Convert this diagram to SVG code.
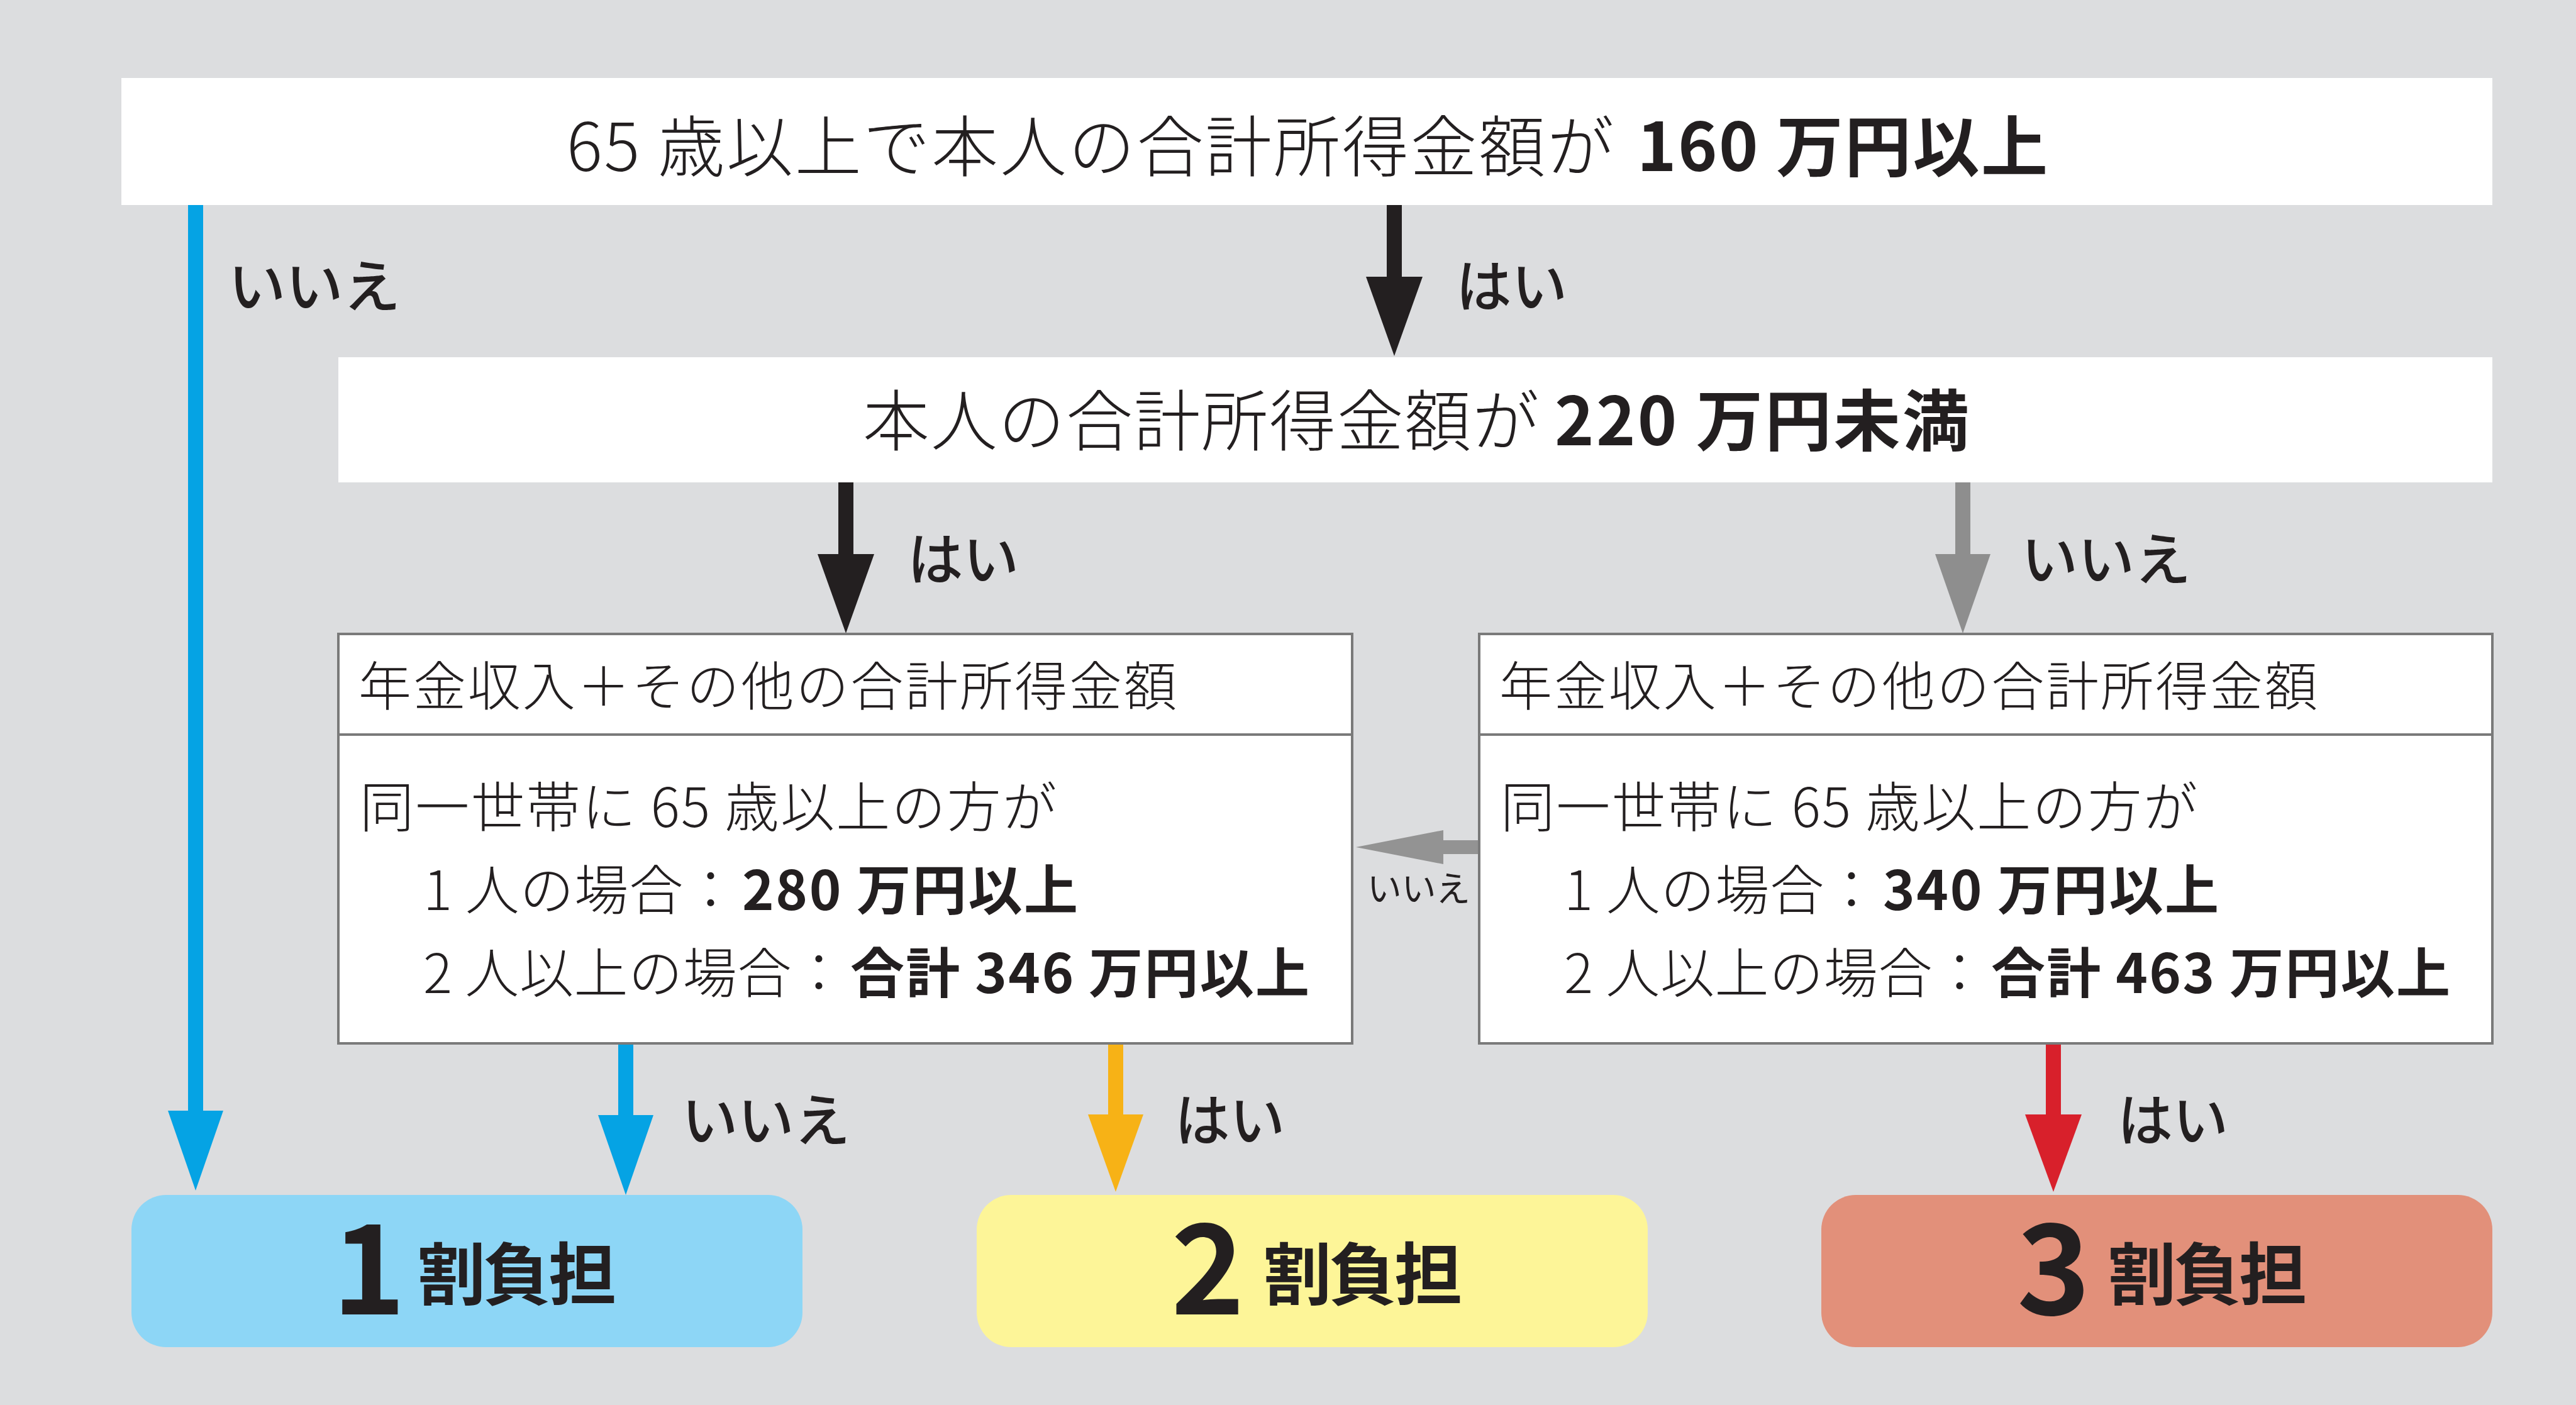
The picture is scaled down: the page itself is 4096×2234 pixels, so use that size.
<svg xmlns="http://www.w3.org/2000/svg" width="4096" height="2234" viewBox="0 0 4096 2234">
<style>
.t{font-family:'Noto Sans CJK JP','Noto Sans',sans-serif;fill:#231f20}
.lt{font-weight:300}
.bd{font-weight:700}
.lb{font-weight:500;font-size:90px}
.box{fill:#ffffff}
.obox{fill:#ffffff;stroke:#7a7a7a;stroke-width:4}
.sh{fill:none;stroke-width:24}
</style>
<defs>
<marker id="mk-black" markerUnits="userSpaceOnUse" markerWidth="126" markerHeight="90" refX="2" refY="45" orient="auto" overflow="visible"><path d="M0,0 L126,45 L0,90 Z" fill="#231f20"/></marker>
<marker id="mk-gray" markerUnits="userSpaceOnUse" markerWidth="126" markerHeight="88" refX="2" refY="44" orient="auto" overflow="visible"><path d="M0,0 L126,44 L0,88 Z" fill="#8e8e8e"/></marker>
<marker id="mk-gray-s" markerUnits="userSpaceOnUse" markerWidth="139" markerHeight="54" refX="2" refY="27" orient="auto" overflow="visible"><path d="M0,0 L139,27 L0,54 Z" fill="#939393"/></marker>
<marker id="mk-blue" markerUnits="userSpaceOnUse" markerWidth="127" markerHeight="88" refX="2" refY="44" orient="auto" overflow="visible"><path d="M0,0 L127,44 L0,88 Z" fill="#05a3e4"/></marker>
<marker id="mk-orange" markerUnits="userSpaceOnUse" markerWidth="123" markerHeight="88" refX="2" refY="44" orient="auto" overflow="visible"><path d="M0,0 L123,44 L0,88 Z" fill="#f7b216"/></marker>
<marker id="mk-red" markerUnits="userSpaceOnUse" markerWidth="123" markerHeight="90" refX="2" refY="45" orient="auto" overflow="visible"><path d="M0,0 L123,45 L0,90 Z" fill="#d8202b"/></marker>
</defs>
<rect x="0" y="0" width="4096" height="2234" fill="#dcdddf"/>

<g id="connectors">
<line class="sh" x1="311" y1="326" x2="311" y2="1768" stroke="#05a3e4" marker-end="url(#mk-blue)"/>
<line class="sh" x1="2217" y1="326" x2="2217" y2="442" stroke="#231f20" marker-end="url(#mk-black)"/>
<line class="sh" x1="1345" y1="767" x2="1345" y2="883" stroke="#231f20" marker-end="url(#mk-black)"/>
<line class="sh" x1="3121" y1="767" x2="3121" y2="883" stroke="#8e8e8e" marker-end="url(#mk-gray)"/>
<line x1="2351" y1="1347" x2="2293" y2="1347" stroke="#939393" stroke-width="22" marker-end="url(#mk-gray-s)"/>
<line class="sh" x1="995" y1="1661" x2="995" y2="1775" stroke="#05a3e4" marker-end="url(#mk-blue)"/>
<line class="sh" x1="1774" y1="1661" x2="1774" y2="1774" stroke="#f7b216" marker-end="url(#mk-orange)"/>
<line class="sh" x1="3265" y1="1661" x2="3265" y2="1774" stroke="#d8202b" marker-end="url(#mk-red)"/>
<text class="t lb" x="363" y="488" textLength="274" lengthAdjust="spacingAndGlyphs">いいえ</text>
<text class="t lb" x="2315" y="488" textLength="177" lengthAdjust="spacingAndGlyphs">はい</text>
<text class="t lb" x="1443" y="922" textLength="177" lengthAdjust="spacingAndGlyphs">はい</text>
<text class="t lb" x="3214" y="922" textLength="270" lengthAdjust="spacingAndGlyphs">いいえ</text>
<text class="t" x="2174" y="1433" font-size="56" font-weight="400" textLength="164" lengthAdjust="spacingAndGlyphs">いいえ</text>
<text class="t lb" x="1084" y="1814" textLength="268" lengthAdjust="spacingAndGlyphs">いいえ</text>
<text class="t lb" x="1868" y="1814" textLength="175" lengthAdjust="spacingAndGlyphs">はい</text>
<text class="t lb" x="3367" y="1814" textLength="176" lengthAdjust="spacingAndGlyphs">はい</text>
</g>

<g id="q1">
<rect class="box" x="193" y="124" width="3770" height="202"/>
<text class="t lt" x="901" y="272" font-size="106" textLength="1665" lengthAdjust="spacing">65 歳以上で本人の合計所得金額が</text>
<text class="t bd" x="2603" y="272" font-size="106" textLength="653" lengthAdjust="spacing">160 万円以上</text>
</g>

<g id="q2">
<rect class="box" x="538" y="568" width="3425" height="199"/>
<text class="t lt" x="1372" y="708" font-size="106" textLength="1075" lengthAdjust="spacing">本人の合計所得金額が</text>
<text class="t bd" x="2472" y="708" font-size="106" textLength="659" lengthAdjust="spacing">220 万円未満</text>
</g>

<g id="q3a">
<rect class="obox" x="538" y="1008" width="1612" height="651"/>
<line x1="538" y1="1168" x2="2150" y2="1168" stroke="#7a7a7a" stroke-width="4"/>
<text class="t lt" x="570" y="1122" font-size="84" textLength="1301" lengthAdjust="spacing">年金収入＋その他の合計所得金額</text>
<text class="t lt" x="572" y="1315" font-size="86" textLength="1108" lengthAdjust="spacing">同一世帯に 65 歳以上の方が</text>
<text class="t lt" x="673" y="1447" font-size="86" textLength="500" lengthAdjust="spacing">1 人の場合：</text>
<text class="t bd" x="1180" y="1447" font-size="86" textLength="534" lengthAdjust="spacing">280 万円以上</text>
<text class="t lt" x="673" y="1579" font-size="86" textLength="672" lengthAdjust="spacing">2 人以上の場合：</text>
<text class="t bd" x="1352" y="1579" font-size="86" textLength="730" lengthAdjust="spacing">合計 346 万円以上</text>
</g>

<g id="q3b">
<rect class="obox" x="2352" y="1008" width="1611" height="651"/>
<line x1="2352" y1="1168" x2="3963" y2="1168" stroke="#7a7a7a" stroke-width="4"/>
<text class="t lt" x="2384" y="1122" font-size="84" textLength="1301" lengthAdjust="spacing">年金収入＋その他の合計所得金額</text>
<text class="t lt" x="2386" y="1315" font-size="86" textLength="1108" lengthAdjust="spacing">同一世帯に 65 歳以上の方が</text>
<text class="t lt" x="2487" y="1447" font-size="86" textLength="500" lengthAdjust="spacing">1 人の場合：</text>
<text class="t bd" x="2994" y="1447" font-size="86" textLength="534" lengthAdjust="spacing">340 万円以上</text>
<text class="t lt" x="2487" y="1579" font-size="86" textLength="672" lengthAdjust="spacing">2 人以上の場合：</text>
<text class="t bd" x="3166" y="1579" font-size="86" textLength="730" lengthAdjust="spacing">合計 463 万円以上</text>
</g>

<g id="r1">
<rect x="209" y="1900" width="1067" height="242" rx="55" fill="#8dd6f6"/>
<text class="t bd" x="528" y="2090" font-size="198">1</text>
<text class="t bd" x="664" y="2066" font-size="108" textLength="316" lengthAdjust="spacing">割負担</text>
</g>
<g id="r2">
<rect x="1553" y="1900" width="1067" height="242" rx="55" fill="#fdf598"/>
<text class="t bd" x="1862" y="2090" font-size="198">2</text>
<text class="t bd" x="2009" y="2066" font-size="108" textLength="316" lengthAdjust="spacing">割負担</text>
</g>
<g id="r3">
<rect x="2896" y="1900" width="1067" height="242" rx="55" fill="#e2907a"/>
<text class="t bd" x="3207" y="2090" font-size="198">3</text>
<text class="t bd" x="3352" y="2066" font-size="108" textLength="316" lengthAdjust="spacing">割負担</text>
</g>
</svg>
